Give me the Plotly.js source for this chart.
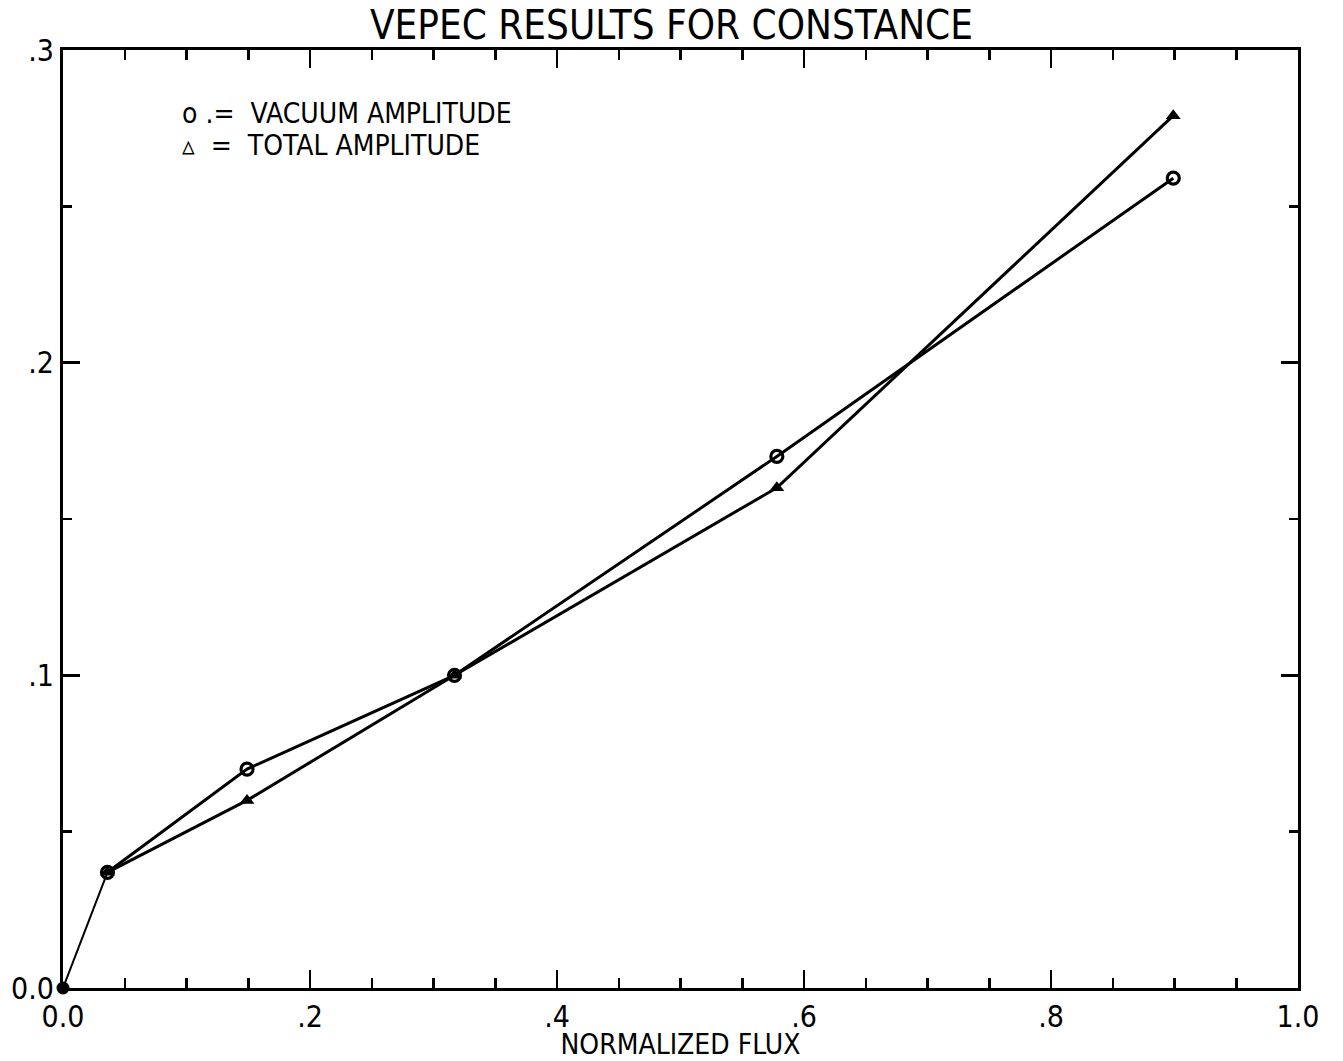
<!DOCTYPE html>
<html>
<head>
<meta charset="utf-8">
<script src="https://cdn.plot.ly/plotly-3.0.1.min.js"></script>
<style>html,body{margin:0;padding:0;background:#fff;}#chart{width:1343px;height:1061px;}</style>
</head>
<body>
<div id="chart"></div>
<script>
const flux = [0.0, 0.036, 0.149, 0.317, 0.578, 0.899];
const vacuumAmp = [0.0, 0.037, 0.070, 0.100, 0.170, 0.259];
const totalAmp = [0.0, 0.037, 0.060, 0.100, 0.160, 0.279];
const xTickVals = [0, 0.2, 0.4, 0.6, 0.8, 1.0];
const xTickText = ["0.0", ".2", ".4", ".6", ".8", "1.0"];
const yTickVals = [0, 0.1, 0.2, 0.3];
const yTickText = ["0.0", ".1", ".2", ".3"];

const FONT = "'DejaVu Sans Condensed', 'Liberation Sans Narrow', 'DejaVu Sans', sans-serif";

const traces = [
  { x: flux.slice(0, 2), y: vacuumAmp.slice(0, 2), mode: 'lines', line: {color: '#000', width: 2}, showlegend: false, hoverinfo: 'skip' },
  { x: flux.slice(1), y: totalAmp.slice(1), mode: 'lines+markers', name: 'TOTAL AMPLITUDE',
    line: {color: '#000', width: 3}, marker: {symbol: 'triangle-up', size: 13, color: '#000'} },
  { x: flux.slice(1), y: vacuumAmp.slice(1), mode: 'lines+markers', name: 'VACUUM AMPLITUDE',
    line: {color: '#000', width: 3}, marker: {symbol: 'circle-open', size: 12, color: '#000', line: {width: 3.2, color: '#000'}} },
  { x: flux.slice(0, 1), y: vacuumAmp.slice(0, 1), mode: 'markers', showlegend: false, cliponaxis: false,
    marker: {symbol: 'circle', size: 11, color: '#000', line: {width: 2, color: '#000'}} }
];

const layout = {
  width: 1343, height: 1061,
  margin: {l: 63, r: 45, t: 50, b: 73},
  paper_bgcolor: '#fff', plot_bgcolor: '#fff',
  showlegend: false,
  font: {family: FONT, color: '#000'},
  title: {text: 'VEPEC RESULTS FOR CONSTANCE', font: {family: FONT, size: 40, color: '#000'}, x: 0.5, xanchor: 'center', y: 0.976, yanchor: 'middle'},
  xaxis: {
    range: [0, 1], tickvals: xTickVals, ticktext: xTickText,
    ticks: 'inside', ticklen: 18, tickwidth: 2.5, tickcolor: '#000',
    showline: true, linewidth: 3, linecolor: '#000', mirror: 'ticks',
    showgrid: false, zeroline: false,
    tickfont: {family: FONT, size: 30, color: '#000'},
    minor: {dtick: 0.05, tick0: 0, ticks: 'inside', ticklen: 10, tickwidth: 2.5, tickcolor: '#000', showgrid: false},
    title: {text: 'NORMALIZED FLUX', font: {family: FONT, size: 28, color: '#000'}, standoff: 0}
  },
  yaxis: {
    range: [0, 0.3], tickvals: yTickVals, ticktext: yTickText,
    ticks: 'inside', ticklen: 17, tickwidth: 2.5, tickcolor: '#000',
    showline: true, linewidth: 3, linecolor: '#000', mirror: 'ticks',
    showgrid: false, zeroline: false,
    tickfont: {family: FONT, size: 30, color: '#000'},
    minor: {dtick: 0.05, tick0: 0, ticks: 'inside', ticklen: 9, tickwidth: 2.5, tickcolor: '#000', showgrid: false}
  },
  annotations: [
    {xref: 'paper', yref: 'paper', x: 0.095, y: 0.932, xanchor: 'left', yanchor: 'middle', showarrow: false,
     text: 'o .=  VACUUM AMPLITUDE', font: {family: FONT, size: 28, color: '#000'}},
    {xref: 'paper', yref: 'paper', x: 0.095, y: 0.898, xanchor: 'left', yanchor: 'middle', showarrow: false,
     text: '▵  =  TOTAL AMPLITUDE', font: {family: FONT, size: 28, color: '#000'}}
  ]
};

Plotly.newPlot('chart', traces, layout, {staticPlot: true});
</script>
</body>
</html>
